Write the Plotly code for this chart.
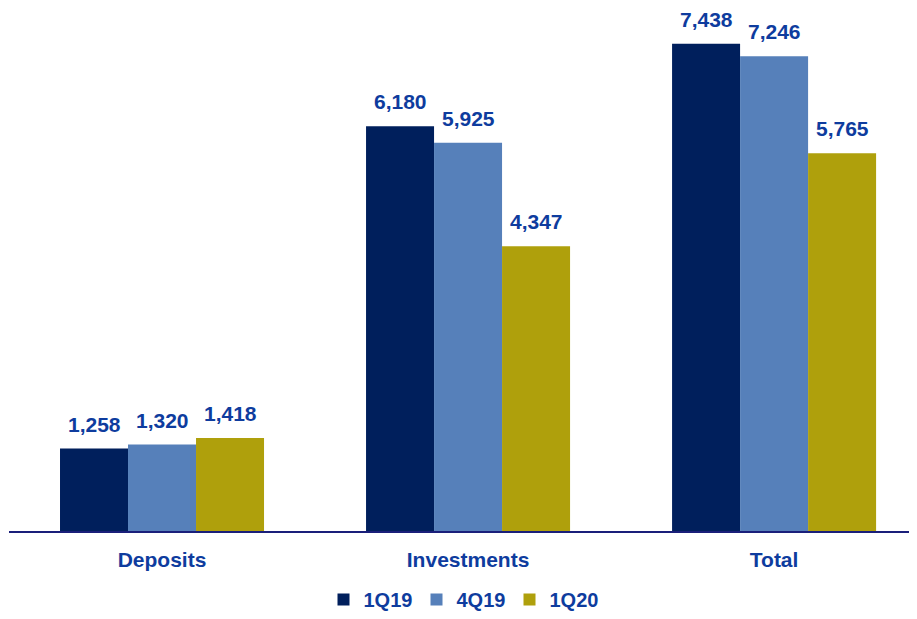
import plotly.graph_objects as go

categories = ["Deposits", "Investments", "Total"]
series_names = ["1Q19", "4Q19", "1Q20"]
values_1q19 = [1258, 6180, 7438]
values_4q19 = [1320, 5925, 7246]
values_1q20 = [1418, 4347, 5765]

colors = ["#001F5C", "#5680BA", "#AFA00C"]
text_color = "#0E3C9E"
font_family = "Liberation Sans, Arial, sans-serif"

all_series = [values_1q19, values_4q19, values_1q20]

fig = go.Figure()
for name, vals, col in zip(series_names, all_series, colors):
    fig.add_trace(go.Bar(
        name=f"<b>{name}</b>", x=list(range(len(categories))), y=vals,
        marker=dict(color=col, line=dict(width=0)),
        hoverinfo="skip",
    ))

bargap = 1 / 3
n = len(all_series)
w = (1 - bargap) / n
annotations = []
for j, vals in enumerate(all_series):
    off = (j - (n - 1) / 2) * w
    for i, v in enumerate(vals):
        annotations.append(dict(
            x=i + off, y=v, xref="x", yref="y",
            text=f"<b>{v:,}</b>", showarrow=False,
            yanchor="bottom", xanchor="center", yshift=12, borderpad=0,
            font=dict(size=21, color=text_color, family=font_family),
        ))

fig.update_layout(
    width=909, height=611,
    margin=dict(l=1, r=0, t=13, b=85),
    plot_bgcolor="white", paper_bgcolor="white",
    barmode="group", bargap=bargap, bargroupgap=0,
    font=dict(family=font_family, color=text_color),
    annotations=annotations,
    showlegend=True,
    legend=dict(
        orientation="h", x=0.5, xanchor="center", y=-0.135, yanchor="middle",
        font=dict(size=20, color=text_color, family=font_family),
        traceorder="normal", entrywidth=48, entrywidthmode="pixels",
    ),
    xaxis=dict(
        range=[-0.5, 2.467],
        tickmode="array", tickvals=list(range(len(categories))),
        ticktext=[f"<b>{c}</b>" for c in categories],
        tickfont=dict(size=21, color=text_color, family=font_family),
        showline=True, linecolor="#1A1F7A", linewidth=2,
        showgrid=False, zeroline=False, ticks="",
        ticklabelstandoff=9,
    ),
    yaxis=dict(
        range=[0, 7785], visible=False, showgrid=False, zeroline=False,
    ),
)

fig.write_html("out.html")
